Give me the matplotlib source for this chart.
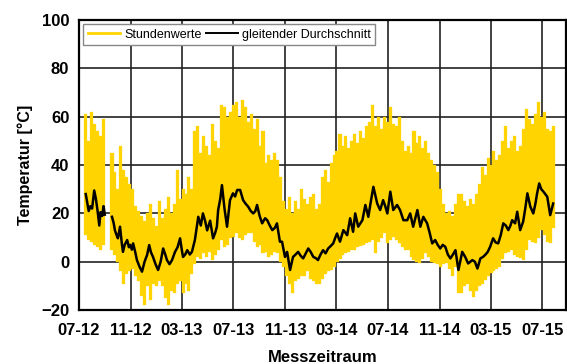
import datetime as dt
import numpy as np
import pandas as pd
import matplotlib
matplotlib.use("Agg")
import matplotlib.pyplot as plt
import matplotlib.dates as mdates
from matplotlib.lines import Line2D

plt.rcParams["font.family"] = ["Liberation Sans", "DejaVu Sans"]

# Stundenwerte, als Wochen-Maxima/-Minima gelesen (zwei Messabschnitte)
start_a = "2012-07-17"
hoch_a = [61, 50, 62, 57, 54, 52, 59]
tief_a = [11, 9, 8, 7, 6, 5, 7]

start_b = "2012-09-17"
hoch_b = [45, 37, 30, 48, 38, 35, 32, 30, 23, 21, 19, 17, 20, 24, 18, 15,
          25, 18, 22, 27, 20, 24, 38, 26, 30, 28, 35, 30, 54, 56, 45, 52,
          48, 44, 57, 50, 47, 65, 64, 60, 62, 65, 66, 60, 67, 64, 58, 61,
          55, 59, 48, 54, 41, 44, 42, 45, 42, 35, 25, 22, 27, 20, 25, 22,
          30, 26, 24, 27, 28, 22, 24, 35, 38, 33, 41, 44, 46, 53, 48, 52,
          47, 50, 53, 49, 54, 51, 56, 58, 65, 56, 60, 55, 60, 58, 64, 57,
          56, 60, 50, 46, 48, 45, 54, 49, 52, 47, 50, 45, 42, 40, 37, 30,
          24, 20, 21, 19, 24, 28, 28, 25, 23, 26, 24, 28, 32, 39, 36, 43,
          40, 46, 42, 44, 50, 56, 47, 50, 52, 46, 48, 55, 63, 59, 57, 61,
          66, 60, 62, 55, 54, 56]
tief_b = [5, 3, 0, -4, -9, -5, -4, -3, -6, -8, -14, -18, -10, -16, -9, -10,
          -8, -10, -15, -18, -12, -13, -9, -8, -13, -9, -12, -5, -1, 2, 1, 3.5,
          2, 4, 0.7, 3, 5, 9, 6, 7, 10, 10.4, 11.7, 10, 9, 11, 12, 11.7,
          8, 6, 7, 3.5, 4, 2, 3, 4, 3.5, 0, -2, -6, -9, -13, -8, -7,
          -6, -6, -4, -7, -8, -9, -9, -7, -5, -4, -3.4, -2, 0, 1, 3, 3.5,
          4, 5, 5, 6, 6.5, 7, 7.6, 8, 9, 3.5, 8, 10, 11.7, 7.6, 9, 10.4,
          9, 7.6, 6, 5, 5, 2, 0.7, 0, -0.7, 1, 3.5, 2, 0, -0.7, -1, -2,
          -1, -0.7, -3, -6, -2, -13, -13, -10, -9, -12, -14.5, -12, -10, -9, -7.6, -6,
          -4.8, -4, -3, -2, 1, 3.5, 4, 5, 3, 2, 1.5, 0.7, 5, 9, 8, 7.6,
          10, 13, 11, 8, 7.6, 14]

# gleitender Durchschnitt: Tage ab 01.07.2012 und Werte
tag_a = [16, 20, 23, 27, 31, 36, 40, 44, 48, 51, 55, 58, 61]
mittel_a = [28, 24, 21, 23, 22, 29.5, 26, 21, 15, 20.5, 19, 23, 19.5]

tag_b = [78, 82, 85, 89, 92, 97, 101, 104, 108, 114, 118, 121, 125, 128, 133,
         137, 143, 149, 155, 161, 166, 170, 175, 181, 187, 193, 199, 204, 208,
         214, 220, 227, 233, 239, 243, 246, 251, 256, 262, 267, 274, 282, 288,
         293, 298, 303, 310, 317, 322, 326, 329, 334, 338, 344, 350, 357, 364,
         369, 374, 381, 388, 394, 400, 406, 412, 417, 421, 427, 433, 440, 445,
         451, 457, 463, 468, 475, 480, 487, 492, 499, 506, 512, 518, 524, 530,
         536, 542, 548, 554, 560, 565, 571, 577, 583, 589, 595, 601, 606, 610,
         617, 625, 630, 634, 641, 648, 653, 660, 670, 677, 684, 690, 696, 705,
         712, 719, 724, 729, 736, 743, 752, 759, 767, 776, 783, 790, 795, 800,
         807, 814, 823, 829, 835, 842, 848, 854, 860, 866, 872, 878, 884, 890,
         897, 906, 913, 920, 930, 936, 942, 949, 955, 960, 966, 972, 979, 985,
         991, 997, 1003, 1009, 1015, 1020, 1024, 1031, 1036, 1043, 1050, 1055,
         1060, 1067, 1074, 1079, 1083, 1088, 1093, 1098, 1107, 1114, 1121]
mittel_b = [18.6, 16, 13, 11, 9.7, 14.5, 8, 4.1, 7, 9, 6, 7, 5, 7.6, 4,
            0.7, -2, -4.1, 0, 2.8, 6.9, 4, 2, -1, -3.4, 0, 5.5, 3, 0.7,
            -1, 0.7, 4.1, 6, 9.7, 5, 2, 3, 4.8, 3, 4.1, 9, 18.6, 15,
            20, 17, 13, 17, 9.7, 12, 14.5, 21.4, 26, 31.7, 22, 14.5, 25.5, 28.3,
            27, 29.7, 29.7, 25.5, 24, 22.8, 21, 20, 21, 23.5, 19, 15.9, 18, 17.2,
            15, 13.1, 14, 15.9, 8.3, 8.3, 2, 4.1, -3.4, 2, 3, 4.1, 2.5, 1.4,
            3.5, 5.5, 4, 2, 1.5, 0.7, 3, 4.8, 3.5, 5.5, 6.5, 7.6, 10, 11.7,
            8.3, 13.1, 12, 11, 18, 12.4, 20, 14.5, 17.2, 23.5, 18.6, 25, 31, 24.1,
            21.4, 25.5, 23, 20, 29, 21.4, 23.5, 21.4, 17.2, 17.2, 20, 14.5, 18, 21.4,
            14.5, 18.6, 15.9, 12, 7.6, 9, 7, 5.5, 7, 6.2, 3, 1.4, 3, 4.8,
            -3.4, 4.1, 2, -0.7, 0.7, 0, -2.8, 1.4, 2, 2.8, 4, 6.2, 9.7, 8,
            7.6, 11, 15.9, 15, 13.1, 15, 17.2, 15.9, 20.7, 13.1, 16.6, 22,
            28.3, 22.8, 20, 24, 28.3, 32.4, 30, 29, 26.9, 19.3, 24.1]

gelb = "#FFD400"
bezug = dt.datetime(2012, 7, 1)

fig = plt.figure(figsize=(5.67, 3.64), dpi=100)
ax = fig.add_axes([0.1393, 0.148, 0.8587, 0.797])

for start, hoch, tief in [(start_a, hoch_a, tief_a), (start_b, hoch_b, tief_b)]:
    x = mdates.date2num(pd.date_range(start, periods=len(hoch), freq="7D"))
    ax.bar(x, np.subtract(hoch, tief), bottom=tief, width=7.2,
           color=gelb, edgecolor=gelb, linewidth=0.2, zorder=2)

for tage, werte in [(tag_a, mittel_a), (tag_b, mittel_b)]:
    x = [bezug + dt.timedelta(days=t) for t in tage]
    ax.plot(x, werte, color="black", linewidth=1.8, zorder=3)

ax.set_xlim(dt.datetime(2012, 7, 1), dt.datetime(2015, 8, 26))
ax.set_ylim(-20, 100)
ax.set_yticks(range(-20, 101, 20))
ax.xaxis.set_major_locator(mdates.MonthLocator(bymonth=[3, 7, 11]))
ax.xaxis.set_major_formatter(mdates.DateFormatter("%m-%y"))

ax.set_axisbelow(True)
ax.grid(True, color="#222222", linewidth=1.2)
for s in ax.spines.values():
    s.set_linewidth(1.6)
ax.tick_params(length=0, labelsize=12)
ax.tick_params(axis="y", pad=7)
ax.tick_params(axis="x", pad=9)
for lab in ax.get_xticklabels() + ax.get_yticklabels():
    lab.set_fontweight("bold")

ax.set_ylabel("Temperatur [°C]", fontsize=11.5, fontweight="bold", labelpad=6)
ax.set_xlabel("Messzeitraum", fontsize=12, fontweight="bold", labelpad=9)

griffe = [Line2D([], [], color=gelb, linewidth=2),
          Line2D([], [], color="black", linewidth=1.4)]
leg = ax.legend(griffe, ["Stundenwerte", "gleitender Durchschnitt"], ncol=2,
                loc="upper left", fontsize=9, fancybox=False, framealpha=1,
                edgecolor="#888888", borderaxespad=0.35, handlelength=2.6,
                handletextpad=0.3, columnspacing=0.35, borderpad=0.35)
leg.get_frame().set_linewidth(1.0)

fig.savefig("out.png", dpi=100)
